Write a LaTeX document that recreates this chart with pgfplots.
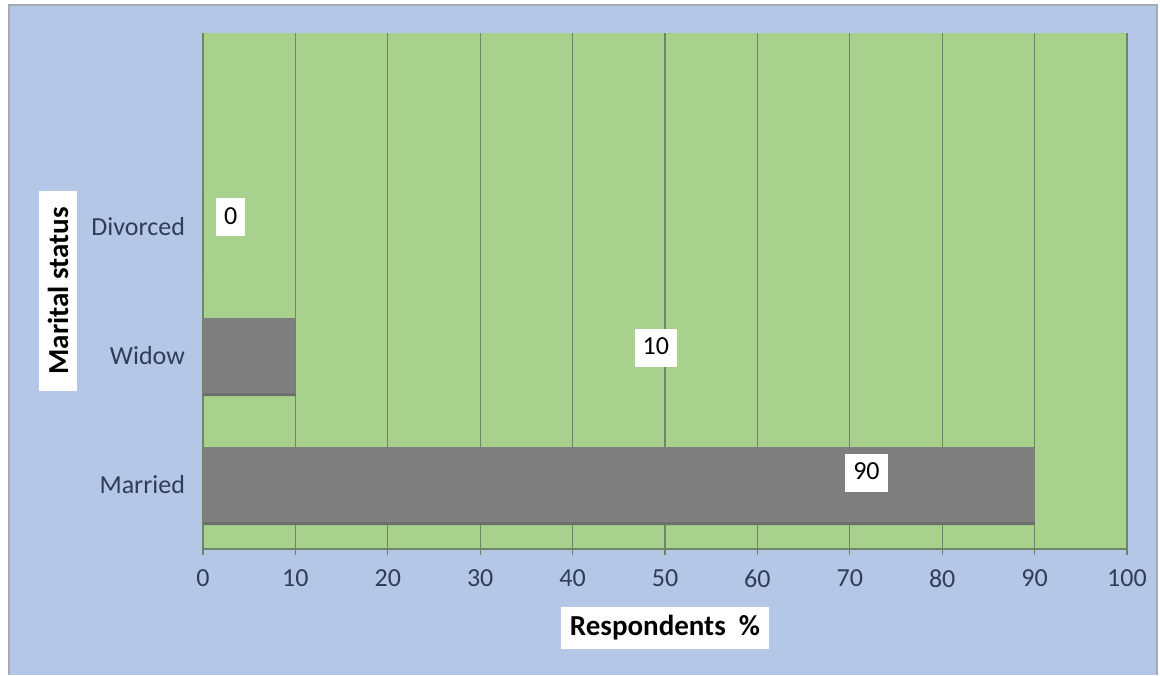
\documentclass[border=0pt]{standalone}
\usepackage{fontspec}
\setmainfont{Carlito}
\usepackage{pgfplots}
\usepackage{pgfplotstable}
\pgfplotsset{compat=1.18}

\definecolor{frameblue}{RGB}{180,199,231}
\definecolor{plotgreen}{RGB}{168,209,141}
\definecolor{bargray}{RGB}{127,127,127}
\definecolor{shadowgray}{RGB}{108,112,108}
\definecolor{gridgreen}{RGB}{112,132,102}
\definecolor{ticktext}{RGB}{50,60,88}
\definecolor{framegray}{RGB}{165,170,185}

% pos: category row, value: percentage, lx/ly: where the value label sits
\pgfplotstableread{
pos value lx ly
0 90 71.8 0.09
1 10 49.0 1.06
2 0 3.0 2.07
}\maritaldata

\begin{document}
\begin{tikzpicture}
\path[use as bounding box] (-101.5pt,-63pt) rectangle (478.5pt,274.5pt);
\fill[white] (-101.5pt,-63pt) rectangle (478.5pt,274.5pt);
\fill[frameblue] (-97pt,-63pt) rectangle (477pt,272pt);
\draw[framegray, line width=1pt] (-97pt,-63pt) -- (-97pt,272pt) -- (477pt,272pt) -- (477pt,-63pt);
\begin{axis}[
  at={(0pt,0pt)}, anchor=south west,
  scale only axis, width=462pt, height=258pt,
  xmin=0, xmax=100, ymin=-0.5, ymax=3.5,
  axis background/.style={fill=plotgreen},
  axis line style={draw=none},
  xtick pos=bottom, ytick pos=left,
  xtick={0,10,...,100},
  ytick={0,1,2},
  yticklabels={Married,Widow,Divorced},
  xtick align=outside,
  major tick length=3pt,
  x tick style={draw=gridgreen, line width=0.6pt},
  y tick style={draw=none},
  /pgf/number format/assume math mode=true,
  ticklabel style={font=\fontsize{13}{15}\selectfont, text=ticktext},
  xticklabel style={yshift=-4pt},
  yticklabel style={xshift=-5.5pt},
  xlabel={\textbf{Respondents\ \ \%}},
  ylabel={\textbf{Marital status}},
  label style={font=\fontsize{14.5}{16}\selectfont, fill=white, text=black,
    inner xsep=4.5pt, inner ysep=4.5pt},
  xlabel style={at={(axis description cs:0.5,-0.1531)}, anchor=center},
  ylabel style={at={(axis description cs:-0.1569,0.5)}, anchor=center,
    inner xsep=8pt},
  extra description/.code={
    \draw[gridgreen, line width=0.6pt]
      (axis description cs:0,0) -- (axis description cs:1,0);
  },
  clip=false,
]
% vertical gridlines as the first plot, so the bars cover them
\addplot[gridgreen, line width=0.6pt, unbounded coords=jump, forget plot]
  coordinates {
    (0,-0.5) (0,3.5) (0,nan)
    (10,-0.5) (10,3.5) (10,nan)
    (20,-0.5) (20,3.5) (20,nan)
    (30,-0.5) (30,3.5) (30,nan)
    (40,-0.5) (40,3.5) (40,nan)
    (50,-0.5) (50,3.5) (50,nan)
    (60,-0.5) (60,3.5) (60,nan)
    (70,-0.5) (70,3.5) (70,nan)
    (80,-0.5) (80,3.5) (80,nan)
    (90,-0.5) (90,3.5) (90,nan)
    (100,-0.5) (100,3.5)
  };
% shadow under each bar
\addplot[xbar, bar width=37.5pt, bar shift=-1.6pt, fill=shadowgray, draw=none]
  table[x=value, y=pos] {\maritaldata};
\addplot[xbar, bar width=37.5pt, bar shift=0pt, fill=bargray, draw=none]
  table[x=value, y=pos] {\maritaldata};
% value labels
\addplot[only marks, mark=none, nodes near coords, point meta=explicit symbolic,
  nodes near coords style={anchor=center, fill=white, text=black,
    font=\fontsize{13}{15}\selectfont, inner xsep=4pt, inner ysep=4pt,
    text height=9pt, text depth=2pt}]
  table[x=lx, y=ly, meta=value] {\maritaldata};
\end{axis}
\end{tikzpicture}
\end{document}
